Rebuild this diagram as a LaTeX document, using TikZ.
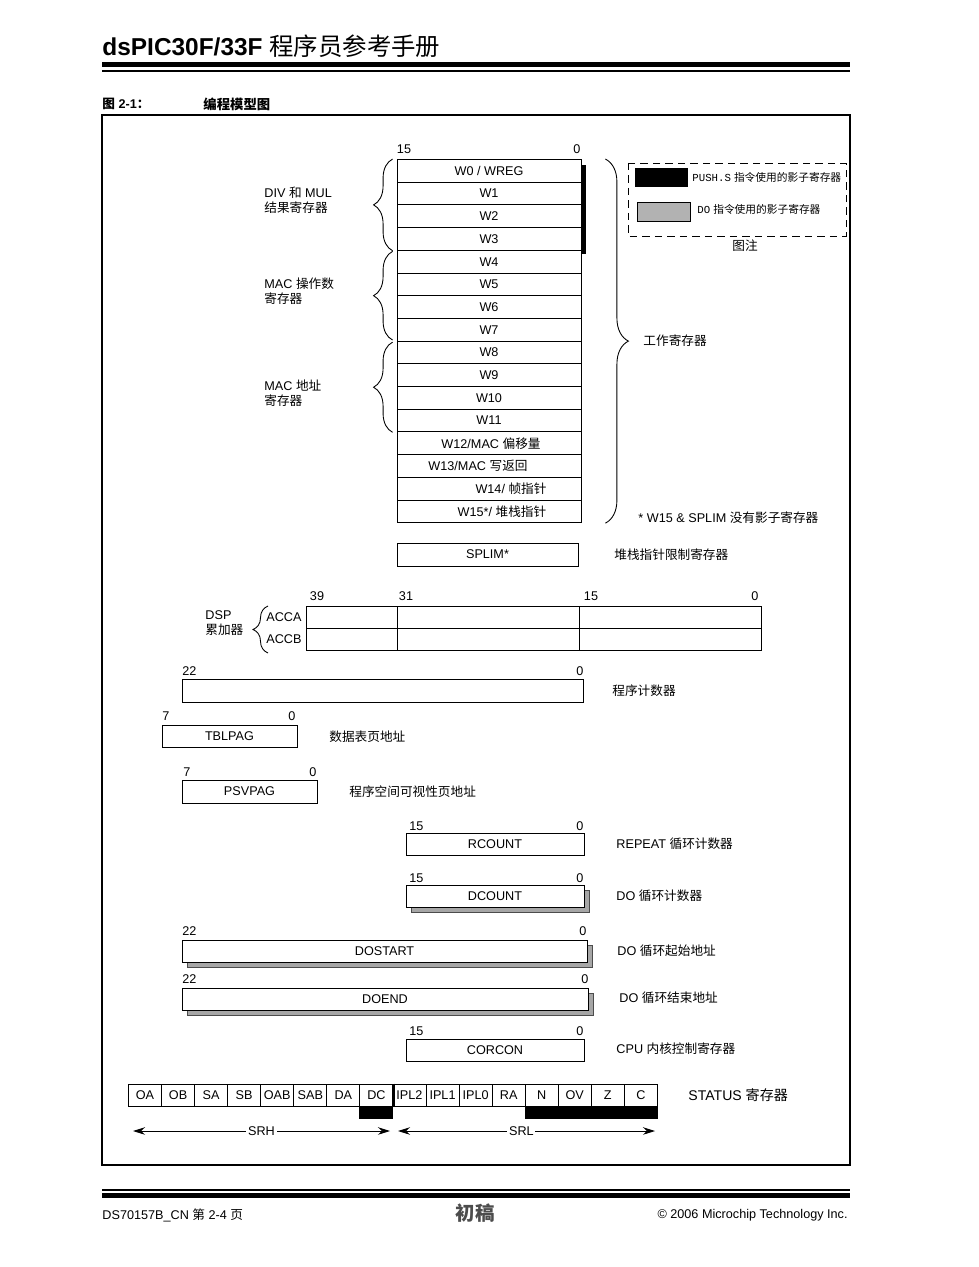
\documentclass[tikz,border=0pt]{standalone}
\usepackage{fontspec}
\setmainfont{Liberation Sans}
\newfontfamily\cjk{Noto Sans CJK SC}
\newfontfamily\mono{Liberation Mono}
\newcommand\zh[1]{{\cjk #1}}
\usetikzlibrary{arrows.meta,decorations.pathreplacing,shadows}

\begin{document}
\begin{tikzpicture}[x=0.02cm,y=-0.02cm,line width=0.5pt,>={Stealth[length=2.4mm,width=1.5mm]},
  every node/.style={font=\fontsize{7.2}{8.6}\selectfont,inner sep=0pt},
  reg/.style={draw,fill=white,minimum height=0.45cm},
  shade/.style={drop shadow={shadow xshift=0.1cm,shadow yshift=-0.1cm,fill=black!35,draw=black!70,opacity=1}},
  regbrace/.style={decorate,decoration={brace,amplitude=#1}}]
  \useasboundingbox (0,0) rectangle (979,1267);
  % header
  \node[anchor=base west,font=\fontsize{13.9}{16}\selectfont\bfseries] (title) at (102,56) {dsPIC30F/33F {\cjk\mdseries 程序员参考手册}};
  \fill (102,62.5) rectangle (850,67.5);
  \fill (102,70) rectangle (850,72);
  \node[anchor=west,font=\fontsize{7.2}{8.6}\selectfont\bfseries] (fignum) at (102,104) {\zh{图} 2-1\zh{：}};
  \node[anchor=west,font=\fontsize{7.6}{9}\selectfont\bfseries] (figtitle) at (203,104) {\zh{编程模型图}};
  \draw[line width=0.7pt] (102,115) rectangle (850,1165);

  % working registers
  \node (wmsb) at (404,149) {15};
  \node (wlsb) at (577,149) {0};
  \foreach \t/\dx [count=\i from 0] in {{W0 / WREG}/0,W1/0,W2/0,W3/0,W4/0,W5/0,W6/0,W7/0,W8/0,W9/0,W10/0,W11/0,
      {W12/MAC \zh{偏移量}}/2,{W13/MAC \zh{写返回}}/-11,{W14/ \zh{帧指针}}/22,{W15*/ \zh{堆栈指针}}/13}{
    \node[reg,minimum width=3.68cm,minimum height=0.454cm] (w\i) at (489,{170.85+22.7*\i}) {};
    \node (wl\i) at ([xshift={\dx*0.02cm}]w\i) {\t};
  }
  \fill (581,165) rectangle (585.5,254);
  \draw[regbrace=0.38cm] ([xshift=-0.08cm]w3.south west) -- ([xshift=-0.08cm]w0.north west);
  \draw[regbrace=0.38cm] ([xshift=-0.08cm,yshift=0.03cm]w7.south west) -- ([xshift=-0.08cm,yshift=-0.03cm]w4.north west);
  \draw[regbrace=0.38cm] ([xshift=-0.08cm]w11.south west) -- ([xshift=-0.08cm,yshift=-0.03cm]w8.north west);
  \draw[regbrace=0.46cm] ([xshift=0.48cm]w0.north east) -- ([xshift=0.48cm]w15.south east);
  \node[anchor=west,align=left] (divmul) at (264,200) {DIV \zh{和} MUL\\\zh{结果寄存器}};
  \node[anchor=west,align=left] (macop) at (264,291) {MAC \zh{操作数}\\\zh{寄存器}};
  \node[anchor=west,align=left] (macaddr) at (264,393) {MAC \zh{地址}\\\zh{寄存器}};
  \node[anchor=west] (wreglbl) at (643,341) {\zh{工作寄存器}};
  \node[anchor=west] (noshadow) at (638,518) {* W15 \& SPLIM \zh{没有影子寄存器}};

  % legend
  \draw[dash pattern=on 0.15cm off 0.1cm] (628,163) rectangle (846,236);
  \fill (635,168) rectangle (688,187);
  \draw[fill=black!30] (637,202) rectangle (690,221);
  \node[anchor=west,font=\fontsize{6.1}{7.5}\selectfont] (pushs) at (692,177) {{\mono PUSH.S} \zh{指令使用的影子寄存器}};
  \node[anchor=west,font=\fontsize{6.1}{7.5}\selectfont] (doins) at (697,209) {{\mono DO} \zh{指令使用的影子寄存器}};
  \node (legendlbl) at (745,246) {\zh{图注}};

  % SPLIM
  \node[reg,minimum width=3.62cm,minimum height=0.46cm] (splim) at (487.5,554.5) {SPLIM*};
  \node[anchor=west] (splimlbl) at (614,554.5) {\zh{堆栈指针限制寄存器}};

  % accumulators
  \node (acc39) at (317,596) {39};
  \node (acc31) at (406,596) {31};
  \node (acc15) at (591,596) {15};
  \node (acc0) at (755,596) {0};
  \node[reg,minimum width=9.1cm,minimum height=0.44cm] (acca) at (533.5,617) {};
  \node[reg,minimum width=9.1cm,minimum height=0.44cm] (accb) at (533.5,639) {};
  \foreach \x in {397,579}
    \draw (\x,606) -- (\x,650);
  \node[anchor=east] (accalbl) at (302,617) {ACCA};
  \node[anchor=east] (accblbl) at (302,639) {ACCB};
  \draw[regbrace=0.3cm] (268,653) -- (268,606);
  \node[anchor=west,align=left] (dsplbl) at (205,623) {DSP\\\zh{累加器}};

  % PC, TBLPAG, PSVPAG
  \node[anchor=west] (pc22) at (182,671) {22};
  \node (pc0) at (580,671) {0};
  \node[reg,minimum width=8.02cm,minimum height=0.46cm] (pc) at (382.5,690.5) {};
  \node[anchor=west] (pclbl) at (612,690.5) {\zh{程序计数器}};
  \node[anchor=west] (tbl7) at (162,716) {7};
  \node (tbl0) at (292,716) {0};
  \node[reg,minimum width=2.7cm,minimum height=0.44cm] (tblpag) at (229.5,736) {TBLPAG};
  \node[anchor=west] (tbllbl) at (329,737) {\zh{数据表页地址}};
  \node[anchor=west] (psv7) at (183,772) {7};
  \node (psv0) at (313,772) {0};
  \node[reg,minimum width=2.7cm,minimum height=0.46cm] (psvpag) at (249.5,791.5) {PSVPAG};
  \node[anchor=west] (psvlbl) at (349,792) {\zh{程序空间可视性页地址}};

  % loop and control registers
  \node[anchor=west] (rc15) at (409,826) {15};
  \node (rc0) at (580,826) {0};
  \node[reg,minimum width=3.56cm,minimum height=0.44cm] (rcount) at (495,844) {RCOUNT};
  \node[anchor=west] (rclbl) at (616,844) {REPEAT \zh{循环计数器}};
  \node[anchor=west] (dc15) at (409,878) {15};
  \node (dc0) at (580,878) {0};
  \node[reg,shade,minimum width=3.56cm,minimum height=0.44cm] (dcount) at (495,896) {DCOUNT};
  \node[anchor=west] (dclbl) at (616,896) {DO \zh{循环计数器}};
  \node[anchor=west] (ds22) at (182,931) {22};
  \node (ds0) at (583,931) {0};
  \node[reg,shade,minimum width=8.1cm,minimum height=0.44cm] (dostart) at (384.5,951) {DOSTART};
  \node[anchor=west] (dslbl) at (617,951) {DO \zh{循环起始地址}};
  \node[anchor=west] (de22) at (182,979) {22};
  \node (de0) at (585,979) {0};
  \node[reg,shade,minimum width=8.12cm,minimum height=0.44cm] (doend) at (385,999) {DOEND};
  \node[anchor=west] (delbl) at (619,998) {DO \zh{循环结束地址}};
  \node[anchor=west] (cc15) at (409,1031) {15};
  \node (cc0) at (580,1031) {0};
  \node[reg,minimum width=3.56cm,minimum height=0.44cm] (corcon) at (495,1050) {CORCON};
  \node[anchor=west] (cclbl) at (616,1049) {CPU \zh{内核控制寄存器}};

  % STATUS register
  \foreach \t [count=\i from 0] in {OA,OB,SA,SB,OAB,SAB,DA,DC,IPL2,IPL1,IPL0,RA,N,OV,Z,C}
    \node[reg,minimum width=0.661cm,minimum height=0.44cm] (s\i) at ({145+33.06*\i},1095) {\t};
  \draw[line width=1.8pt] (s7.north east) -- (s7.south east);
  \fill (s7.south west) rectangle ([yshift=-0.26cm]s7.south east);
  \fill (s12.south west) rectangle ([yshift=-0.26cm]s15.south east);
  \node[anchor=west,font=\fontsize{8}{9.6}\selectfont] (statuslbl) at (688,1095) {STATUS \zh{寄存器}};
  \coordinate (srhL) at (133,1131);
  \coordinate (srhR) at (390,1131);
  \coordinate (srlL) at (398,1131);
  \coordinate (srlR) at (655,1131);
  \draw[<->] (srhL) -- node[fill=white,inner sep=1pt] (srh) {SRH} (srhR);
  \draw[<->] (srlL) -- node[fill=white,inner sep=1pt,pos=0.48] (srl) {SRL} (srlR);

  % footer
  \fill (102,1188.5) rectangle (850,1190.5);
  \fill (102,1192.5) rectangle (850,1197.5);
  \node[anchor=west] (docnum) at (102,1215) {DS70157B\_CN \zh{第} 2-4 \zh{页}};
  \node[font=\fontsize{11}{13}\selectfont\bfseries,text=black!70] (draft) at (475,1213) {\zh{初稿}};
  \node[anchor=east] (copyright) at (848,1215) {© 2006 Microchip Technology Inc.};
\end{tikzpicture}
\end{document}
